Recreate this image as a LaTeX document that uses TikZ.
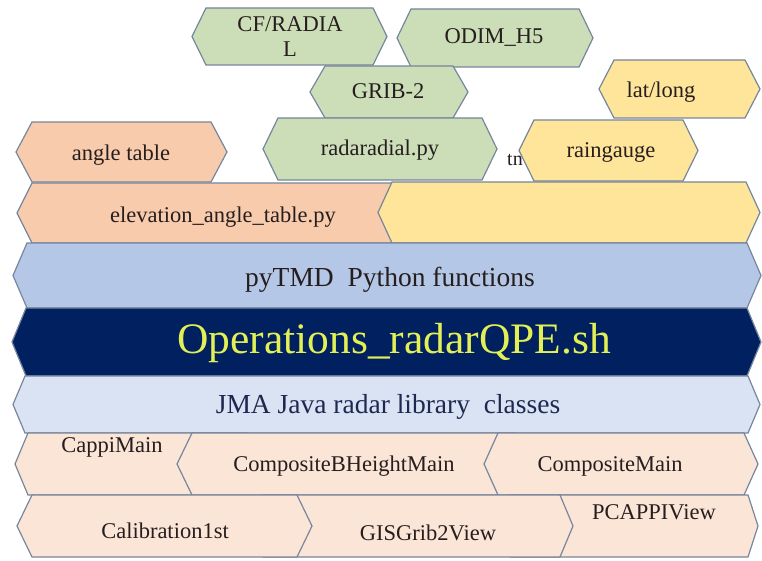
\documentclass[tikz,border=0pt]{standalone}
\usepackage{fontspec}
\setmainfont{Liberation Serif}
\definecolor{edge}{RGB}{118,134,156}
\definecolor{grn}{RGB}{204,222,184}
\definecolor{peach}{RGB}{248,203,173}
\definecolor{yel}{RGB}{255,229,153}
\definecolor{blu}{RGB}{180,199,231}
\definecolor{navy}{RGB}{0,32,96}
\definecolor{opy}{RGB}{226,240,86}
\definecolor{lblu}{RGB}{218,227,243}
\definecolor{lpeach}{RGB}{251,229,214}
\definecolor{ink}{RGB}{38,30,30}
\definecolor{jink}{RGB}{30,40,80}
\tikzset{
  hexbase/.style={draw=edge, line width=1.2pt, line join=miter},
  lbl/.style={inner sep=0pt, text=ink, font=\fontsize{22.5}{25}\selectfont, align=center},
  biglbl/.style={inner sep=0pt, text=ink, font=\fontsize{27.5}{30}\selectfont},
  oplbl/.style={inner sep=0pt, text=opy, font=\fontsize{43.5}{46}\selectfont},
}
\newcommand{\hexpath}[6]{\path[hexbase,#1] (#2,{(#4+#5)/2}) -- ({#2+#6},#4) -- ({#3-#6},#4) -- (#3,{(#4+#5)/2}) -- ({#3-#6},#5) -- ({#2+#6},#5) -- cycle;}
\begin{document}
\begin{tikzpicture}[x=1pt,y=-1pt]
\useasboundingbox (0,0) rectangle (762,561);
% top cluster
\hexpath{fill=peach}{16}{227}{122}{182}{16}
\node[lbl] (angle) at (121,155) {angle table};
\hexpath{fill=grn}{397}{593}{9}{67}{14}
\node[lbl] (odim) at (494,38) {ODIM\_H5};
\hexpath{fill=grn}{310}{468}{66}{118}{15}
\node[lbl] (grib) at (388,91) {GRIB-2};
\hexpath{fill=grn}{192}{387}{8}{65}{14}
\node[lbl] (cf) at (290,37) {CF/RADIA\\L};
\hexpath{fill=grn}{263}{497}{118}{180}{15}
\node[lbl] (radial) at (380,150) {radaradial.py};
\hexpath{fill=yel}{599}{760}{60}{118}{15}
\node[lbl] (latlong) at (661,92) {lat/long};
\node[lbl, anchor=west, font=\fontsize{20}{24}\selectfont] (tn) at (507,160) {tn};
\hexpath{fill=yel}{519}{698}{120}{181}{15}
\node[lbl] (rain) at (611,152) {raingauge};
% rows
\hexpath{fill=peach}{17}{430}{183}{243}{15}
\node[lbl] (elev) at (223,217) {elevation\_angle\_table.py};
\hexpath{fill=yel}{378}{760}{182}{243}{14}
\hexpath{fill=blu}{13}{761}{243}{308}{14}
\node[biglbl] (pytmd) at (390,280) {pyTMD\ \ Python functions};
\hexpath{fill=navy}{12}{761}{308}{376}{14}
\node[oplbl] (ops) at (394,343) {Operations\_radarQPE.sh};
\hexpath{fill=lblu}{13}{760}{376}{433}{12}
\node[biglbl, text=jink] (jma) at (388,407) {JMA Java radar library\ \ classes};
\hexpath{fill=lpeach}{15}{260}{433}{495}{13}
\node[lbl] (cappi) at (112,447) {CappiMain};
\hexpath{fill=lpeach}{177}{530}{433}{495}{15}
\node[lbl] (cbh) at (344,466) {CompositeBHeightMain};
\hexpath{fill=lpeach}{484}{758}{433}{495}{14}
\node[lbl] (cm) at (610,466) {CompositeMain};
\hexpath{fill=lpeach}{500}{758}{495}{557}{10}
\node[lbl] (pcappi) at (654,512) {PCAPPIView};
\hexpath{fill=lpeach}{250}{573}{495}{557}{13}
\node[lbl] (gis) at (428,533) {GISGrib2View};
\hexpath{fill=lpeach}{17}{312}{495}{557}{15}
\node[lbl] (calib) at (165,531) {Calibration1st};
\end{tikzpicture}
\end{document}
